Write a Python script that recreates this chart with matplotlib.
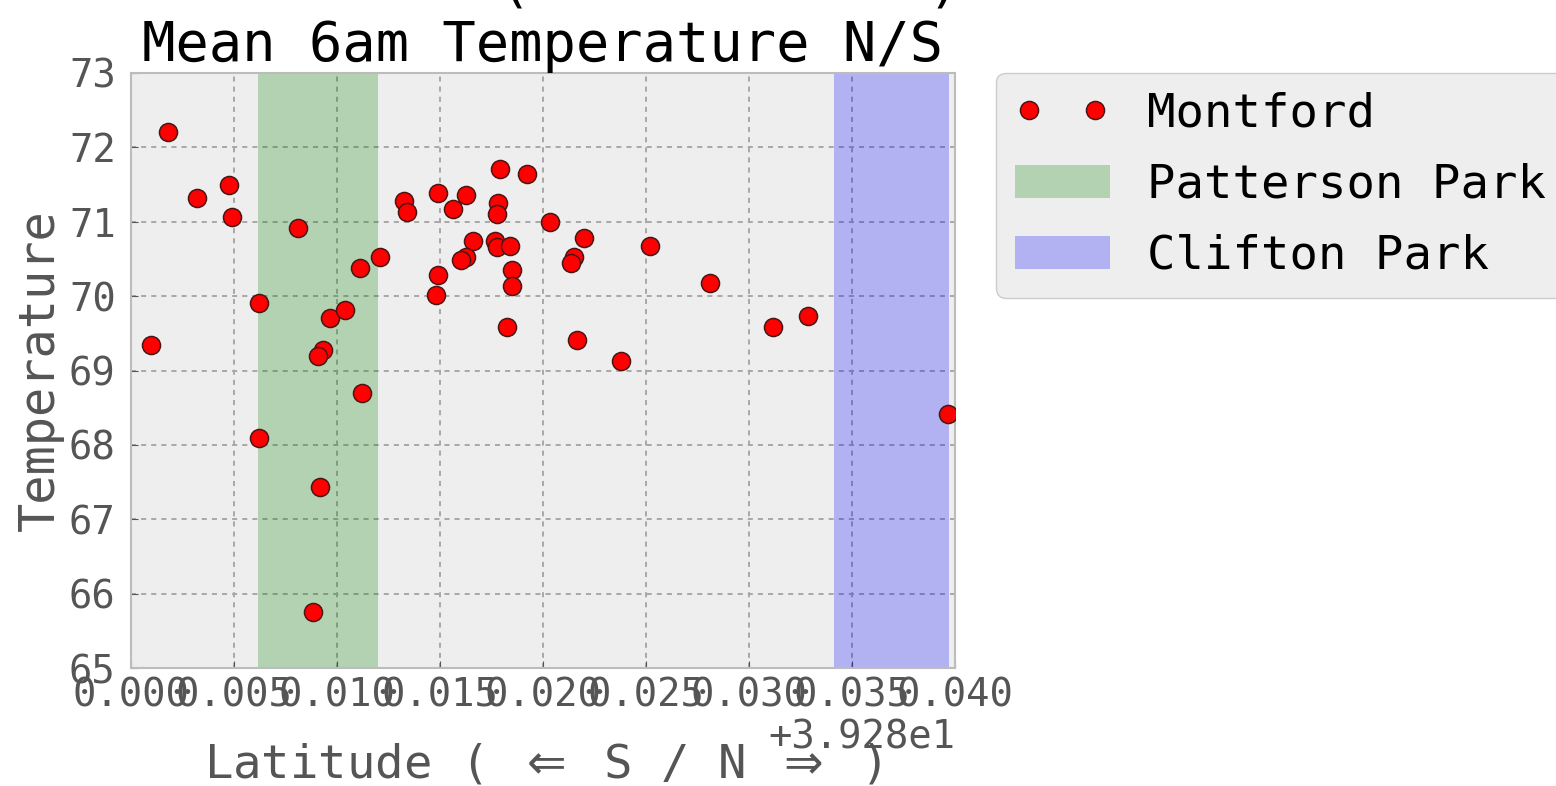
import matplotlib
matplotlib.use("Agg")
import matplotlib.pyplot as plt
from matplotlib.ticker import MultipleLocator

plt.rcParams['font.family'] = ['DejaVu Sans Mono', 'DejaVu Sans']

# ---- data ----
latitude = [39.28096, 39.28181, 39.28322, 39.28477, 39.28492, 39.28812, 39.28621, 39.28621,
            39.28883, 39.28919, 39.28931, 39.28908, 39.28966, 39.29039, 39.29110, 39.29123,
            39.29207, 39.29327, 39.29338, 39.29492, 39.29492, 39.29481, 39.29565, 39.29625,
            39.29660, 39.29624, 39.29600, 39.29791, 39.29780, 39.29777, 39.29767, 39.29775,
            39.29838, 39.29851, 39.29851, 39.29825, 39.29922, 39.30033, 39.30199, 39.30149,
            39.30136, 39.30164, 39.30377, 39.30520, 39.30809, 39.31118, 39.31286, 39.31965]
temperature = [69.34, 72.21, 71.32, 71.49, 71.07, 70.92, 69.91, 68.09,
               65.75, 67.44, 69.27, 69.20, 69.70, 69.81, 70.38, 68.70,
               70.52, 71.28, 71.13, 71.38, 70.28, 70.02, 71.17, 71.36,
               70.74, 70.53, 70.49, 71.71, 71.25, 71.10, 70.74, 70.66,
               70.67, 70.35, 70.13, 69.59, 71.64, 70.99, 70.78, 70.53,
               70.45, 69.41, 69.13, 70.67, 70.17, 69.59, 69.73, 68.41]
patterson_park = [39.28618, 39.29200]
clifton_park = [39.31414, 39.31972]
x_limits = [39.28, 39.32]
y_limits = [65, 73]

fig = plt.figure(figsize=(15.56, 7.86), dpi=100)
ax = fig.add_axes([131/1556, 1-668/786, (955-131)/1556, (668-73)/786])
ax.set_facecolor('#eeeeee')
for s in ax.spines.values():
    s.set_color('#bcbcbc')
    s.set_linewidth(1.5)

ax.plot(latitude, temperature, 'o', color='red', markersize=13,
        markeredgecolor='#4a1515', markeredgewidth=1.1, label='Montford', zorder=3)
ax.axvspan(patterson_park[0], patterson_park[1], facecolor='green', alpha=0.25,
           edgecolor='none', label='Patterson Park', zorder=1)
ax.axvspan(clifton_park[0], clifton_park[1], facecolor='blue', alpha=0.25,
           edgecolor='none', label='Clifton Park', zorder=1)

ax.set_xlim(*x_limits)
ax.set_ylim(*y_limits)
ax.xaxis.set_major_locator(MultipleLocator(0.005))
ax.yaxis.set_major_locator(MultipleLocator(1))
ax.ticklabel_format(axis='x', useOffset=39.28)
ax.grid(True, color='#a8a8a8', linestyle=(0, (2.6, 2.6)), linewidth=1.4)
ax.set_axisbelow(True)

ax.tick_params(axis='both', colors='#555555', labelsize=28, direction='in', length=5)
ax.tick_params(axis='x', pad=6)
ax.tick_params(axis='y', pad=11)
ax.xaxis.get_offset_text().set_fontsize(28)
ax.xaxis.get_offset_text().set_color('#555555')

ax.set_title('Mean 6am Temperature N/S', fontsize=40, pad=3)
ax.set_xlabel(r'Latitude ( $\Leftarrow$ S / N $\Rightarrow$ )', fontsize=34,
              color='#555555', labelpad=20)
ax.set_ylabel('Temperature', fontsize=35, color='#555555')

leg = ax.legend(loc='upper left', bbox_to_anchor=(1.05, 1.0), borderaxespad=0,
                numpoints=2, fontsize=34, facecolor='#eeeeee', edgecolor='#cccccc',
                framealpha=1.0, fancybox=True, labelspacing=0.55)

# partially cut-off text at the very top of the figure
fig.text(514/1556, 1 - 1/786, '(', fontsize=40, ha='center', va='baseline')
fig.text(944/1556, 1 - 1/786, ')', fontsize=40, ha='center', va='baseline')

fig.savefig('out.png', dpi=100)
